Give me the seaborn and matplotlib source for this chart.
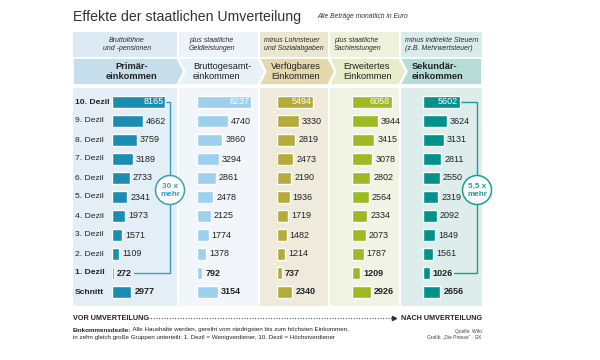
"""
Effekte der staatlichen Umverteilung - Einkommen nach Dezilen (Euro/Monat)
"""

import matplotlib
matplotlib.use("Agg")

import matplotlib.pyplot as plt
from matplotlib.patches import Rectangle, Polygon, Circle
import seaborn as sns

# --- data -------------------------------------------------------------------
DEZILE = ["10. Dezil", "9. Dezil", "8. Dezil", "7. Dezil", "6. Dezil", "5. Dezil",
          "4. Dezil", "3. Dezil", "2. Dezil", "1. Dezil", "Schnitt"]

PRIMAER = [8165, 4662, 3759, 3189, 2733, 2341, 1973, 1571, 1109, 272, 2977]
BRUTTO = [8237, 4740, 3860, 3294, 2861, 2478, 2125, 1774, 1378, 792, 3154]
VERFUEGBAR = [5494, 3330, 2819, 2473, 2190, 1936, 1719, 1482, 1214, 737, 2340]
ERWEITERT = [6058, 3944, 3415, 3078, 2802, 2564, 2334, 2073, 1787, 1209, 2926]
SEKUNDAER = [5602, 3624, 3131, 2811, 2550, 2319, 2092, 1849, 1561, 1026, 2656]

STUFEN = ["Primär-\neinkommen", "Bruttogesamt-\neinkommen", "Verfügbares\nEinkommen",
          "Erweitertes\nEinkommen", "Sekundär-\neinkommen"]
SCHRITTE = ["Bruttolöhne\nund -pensionen", "plus staatliche\nGeldleistungen",
            "minus Lohnsteuer\nund Sozialabgaben", "plus staatliche\nSachleistungen",
            "minus indirekte Steuern\n(z.B. Mehrwertsteuer)"]
FAKTOR = ["30 x\nmehr", "5,5 x\nmehr"]

BOLD_ROWS = {"10. Dezil", "1. Dezil", "Schnitt"}

# --- layout / style -----------------------------------------------------------
W, H = 600, 360
PX = 6.55 / 1000          # pixels per euro
ROW0, ROW_H = 102, 19     # centre of first row, row pitch (px)

# left edge, right edge, bar start (px)
PANELS = [(73, 177, 112), (179, 258, 197), (260, 328, 277), (330, 399, 352), (401, 482, 423)]
BAR_COL = ["#1b8db2", "#9dd0ed", "#b6aa3c", "#9dba22", "#00918a"]
TOP_COL = ["#dde9f3", "#eef3f9", "#ebe6d0", "#eef1dc", "#d9ecea"]
ARR_COL = ["#c6deec", "#e8f0f8", "#e4d9ad", "#e7edc8", "#b6dcd7"]
BODY_COL = ["#e4eef6", "#f2f6fb", "#eeeadc", "#f1f4e4", "#dcedec"]
TOP_TX = [(127, "center"), (189, "left"), (264, "left"), (334, "left"), (405, "left")]
ARR_TX = [(132, "center"), (193, "left"), (271, "left"), (343, "left"), (412, "left")]
BOLD_STUFE = [True, False, False, False, True]
TEXT = "#222222"
FS_ROW = 6.1
FS_VAL = 6.5

sns.set_style("white")
plt.rcParams["font.family"] = ["Liberation Sans", "DejaVu Sans"]

fig = plt.figure(figsize=(W / 100, H / 100), dpi=100)
bg = fig.add_axes([0, 0, 1, 1])
bg.set_xlim(0, W)
bg.set_ylim(H, 0)
bg.axis("off")

# title
bg.text(73, 17, "Effekte der staatlichen Umverteilung", fontsize=10.2,
        color="#333333", va="center", ha="left")
bg.text(317, 17, "Alle Beträge monatlich in Euro", fontsize=4.9, style="italic",
        color="#333333", va="center", ha="left")

TOP_Y0, TOP_Y1 = 32, 57
ARR_Y0, ARR_Y1 = 58, 85
BODY_Y0, BODY_Y1 = 88, 306
TIP = 7

series = [PRIMAER, BRUTTO, VERFUEGBAR, ERWEITERT, SEKUNDAER]

for i, (xl, xr, x0) in enumerate(PANELS):
    # header and body backgrounds
    bg.add_patch(Rectangle((xl, TOP_Y0), xr - xl, TOP_Y1 - TOP_Y0, color=TOP_COL[i], lw=0))
    bg.add_patch(Rectangle((xl, BODY_Y0), xr - xl, BODY_Y1 - BODY_Y0, color=BODY_COL[i], lw=0))
    ym = (ARR_Y0 + ARR_Y1) / 2
    right = [(xr, ARR_Y0), (xr + TIP, ym), (xr, ARR_Y1)] if i < 4 else [(xr, ARR_Y0), (xr, ARR_Y1)]
    if i == 0:
        pts = [(xl, ARR_Y0)] + right + [(xl, ARR_Y1)]
    else:
        pts = [(xl - 1, ARR_Y0)] + right + [(xl - 1, ARR_Y1), (xl - 1 + TIP, ym)]
    bg.add_patch(Polygon(pts, closed=True, facecolor=ARR_COL[i], edgecolor="white", lw=1.2, zorder=2))

    tx, ha = TOP_TX[i]
    bg.text(tx, (TOP_Y0 + TOP_Y1) / 2, SCHRITTE[i], fontsize=5.0, style="italic",
            color="#2a2a2a", ha=ha, va="center", multialignment=ha, linespacing=1.2)
    tx, ha = ARR_TX[i]
    bg.text(tx, ym, STUFEN[i], fontsize=6.7, color=TEXT, ha=ha, va="center", zorder=3,
            multialignment=ha, linespacing=1.05,
            fontweight="bold" if BOLD_STUFE[i] else "normal")

    # bars via seaborn
    ax = fig.add_axes([x0 / W, 1 - (ROW0 - ROW_H / 2 + ROW_H * len(DEZILE)) / H,
                       (xr - x0) / W, ROW_H * len(DEZILE) / H])
    sns.barplot(x=series[i], y=DEZILE, orient="h", color=BAR_COL[i], saturation=1,
                width=0.58, ax=ax)
    ax.set_xlim(0, (xr - x0) / PX)
    ax.set_ylim(len(DEZILE) - 0.5, -0.5)
    ax.axis("off")
    ax.patch.set_alpha(0)
    for j, (lab, val) in enumerate(zip(DEZILE, series[i])):
        if j == 0:
            ax.annotate(str(val), (val, j), xytext=(-1.2, 0), textcoords="offset points",
                        ha="right", va="center", fontsize=FS_VAL, color="white")
        else:
            ax.annotate(str(val), (val, j), xytext=(2.2, 0), textcoords="offset points",
                        ha="left", va="center", fontsize=FS_VAL, color=TEXT,
                        fontweight="bold" if lab in ("1. Dezil", "Schnitt") else "normal")

# row labels
for j, lab in enumerate(DEZILE):
    bg.text(75, ROW0 + j * ROW_H, lab, fontsize=FS_ROW, color=TEXT, ha="left", va="center",
            fontweight="bold" if lab in BOLD_ROWS else "normal")

# "x mehr" connectors
y_top, y_bot = ROW0, ROW0 + 9 * ROW_H
for k, (vals, xv, col, lab_w) in enumerate([(PRIMAER, 170, "#3a9cc4", 16),
                                             (SEKUNDAER, 477, "#1c9e96", 20)]):
    x0 = PANELS[0][2] if k == 0 else PANELS[4][2]
    bg.plot([x0 + vals[0] * PX + 1, xv, xv, x0 + vals[9] * PX + 4 + lab_w],
            [y_top, y_top, y_bot, y_bot], color=col, lw=1, zorder=4)
    bg.add_patch(Circle((xv, 190), 14.5, facecolor="white", edgecolor=col, lw=1.1, zorder=5))
    bg.text(xv, 190.5, FAKTOR[k], fontsize=5.9, color=col, fontweight="bold",
            ha="center", va="center", linespacing=1.1, zorder=6)

# bottom arrow
bg.text(73, 318, "VOR UMVERTEILUNG", fontsize=5.2, fontweight="bold", color=TEXT,
        ha="left", va="center")
bg.text(482, 318, "NACH UMVERTEILUNG", fontsize=5.2, fontweight="bold", color=TEXT,
        ha="right", va="center")
bg.plot([148, 392], [318, 318], color="#444444", lw=0.8, ls=(0, (0.8, 1.6)))
bg.plot([394], [318], marker=">", ms=3, color="#333333")

# footnote
t1 = bg.text(73, 330, "Einkommensdezile:", fontsize=4.5, fontweight="bold", color=TEXT,
             ha="left", va="center")
bg.annotate(" Alle Haushalte werden, gereiht vom niedrigsten bis zum höchsten Einkommen,",
            xy=(1, 0.5), xycoords=t1, fontsize=4.5, color=TEXT, ha="left", va="center")
bg.text(73, 338, "in zehn gleich große Gruppen unterteilt: 1. Dezil = Wenigverdiener, "
        "10. Dezil = Höchstverdiener", fontsize=4.5, color=TEXT, ha="left", va="center")
bg.text(482, 331, "Quelle: Wifo", fontsize=3.5, color="#444444", ha="right", va="center")
bg.text(482, 337, "Grafik: „Die Presse“ · GK", fontsize=3.5, color="#444444",
        ha="right", va="center")

fig.savefig("out.png", dpi=100)
